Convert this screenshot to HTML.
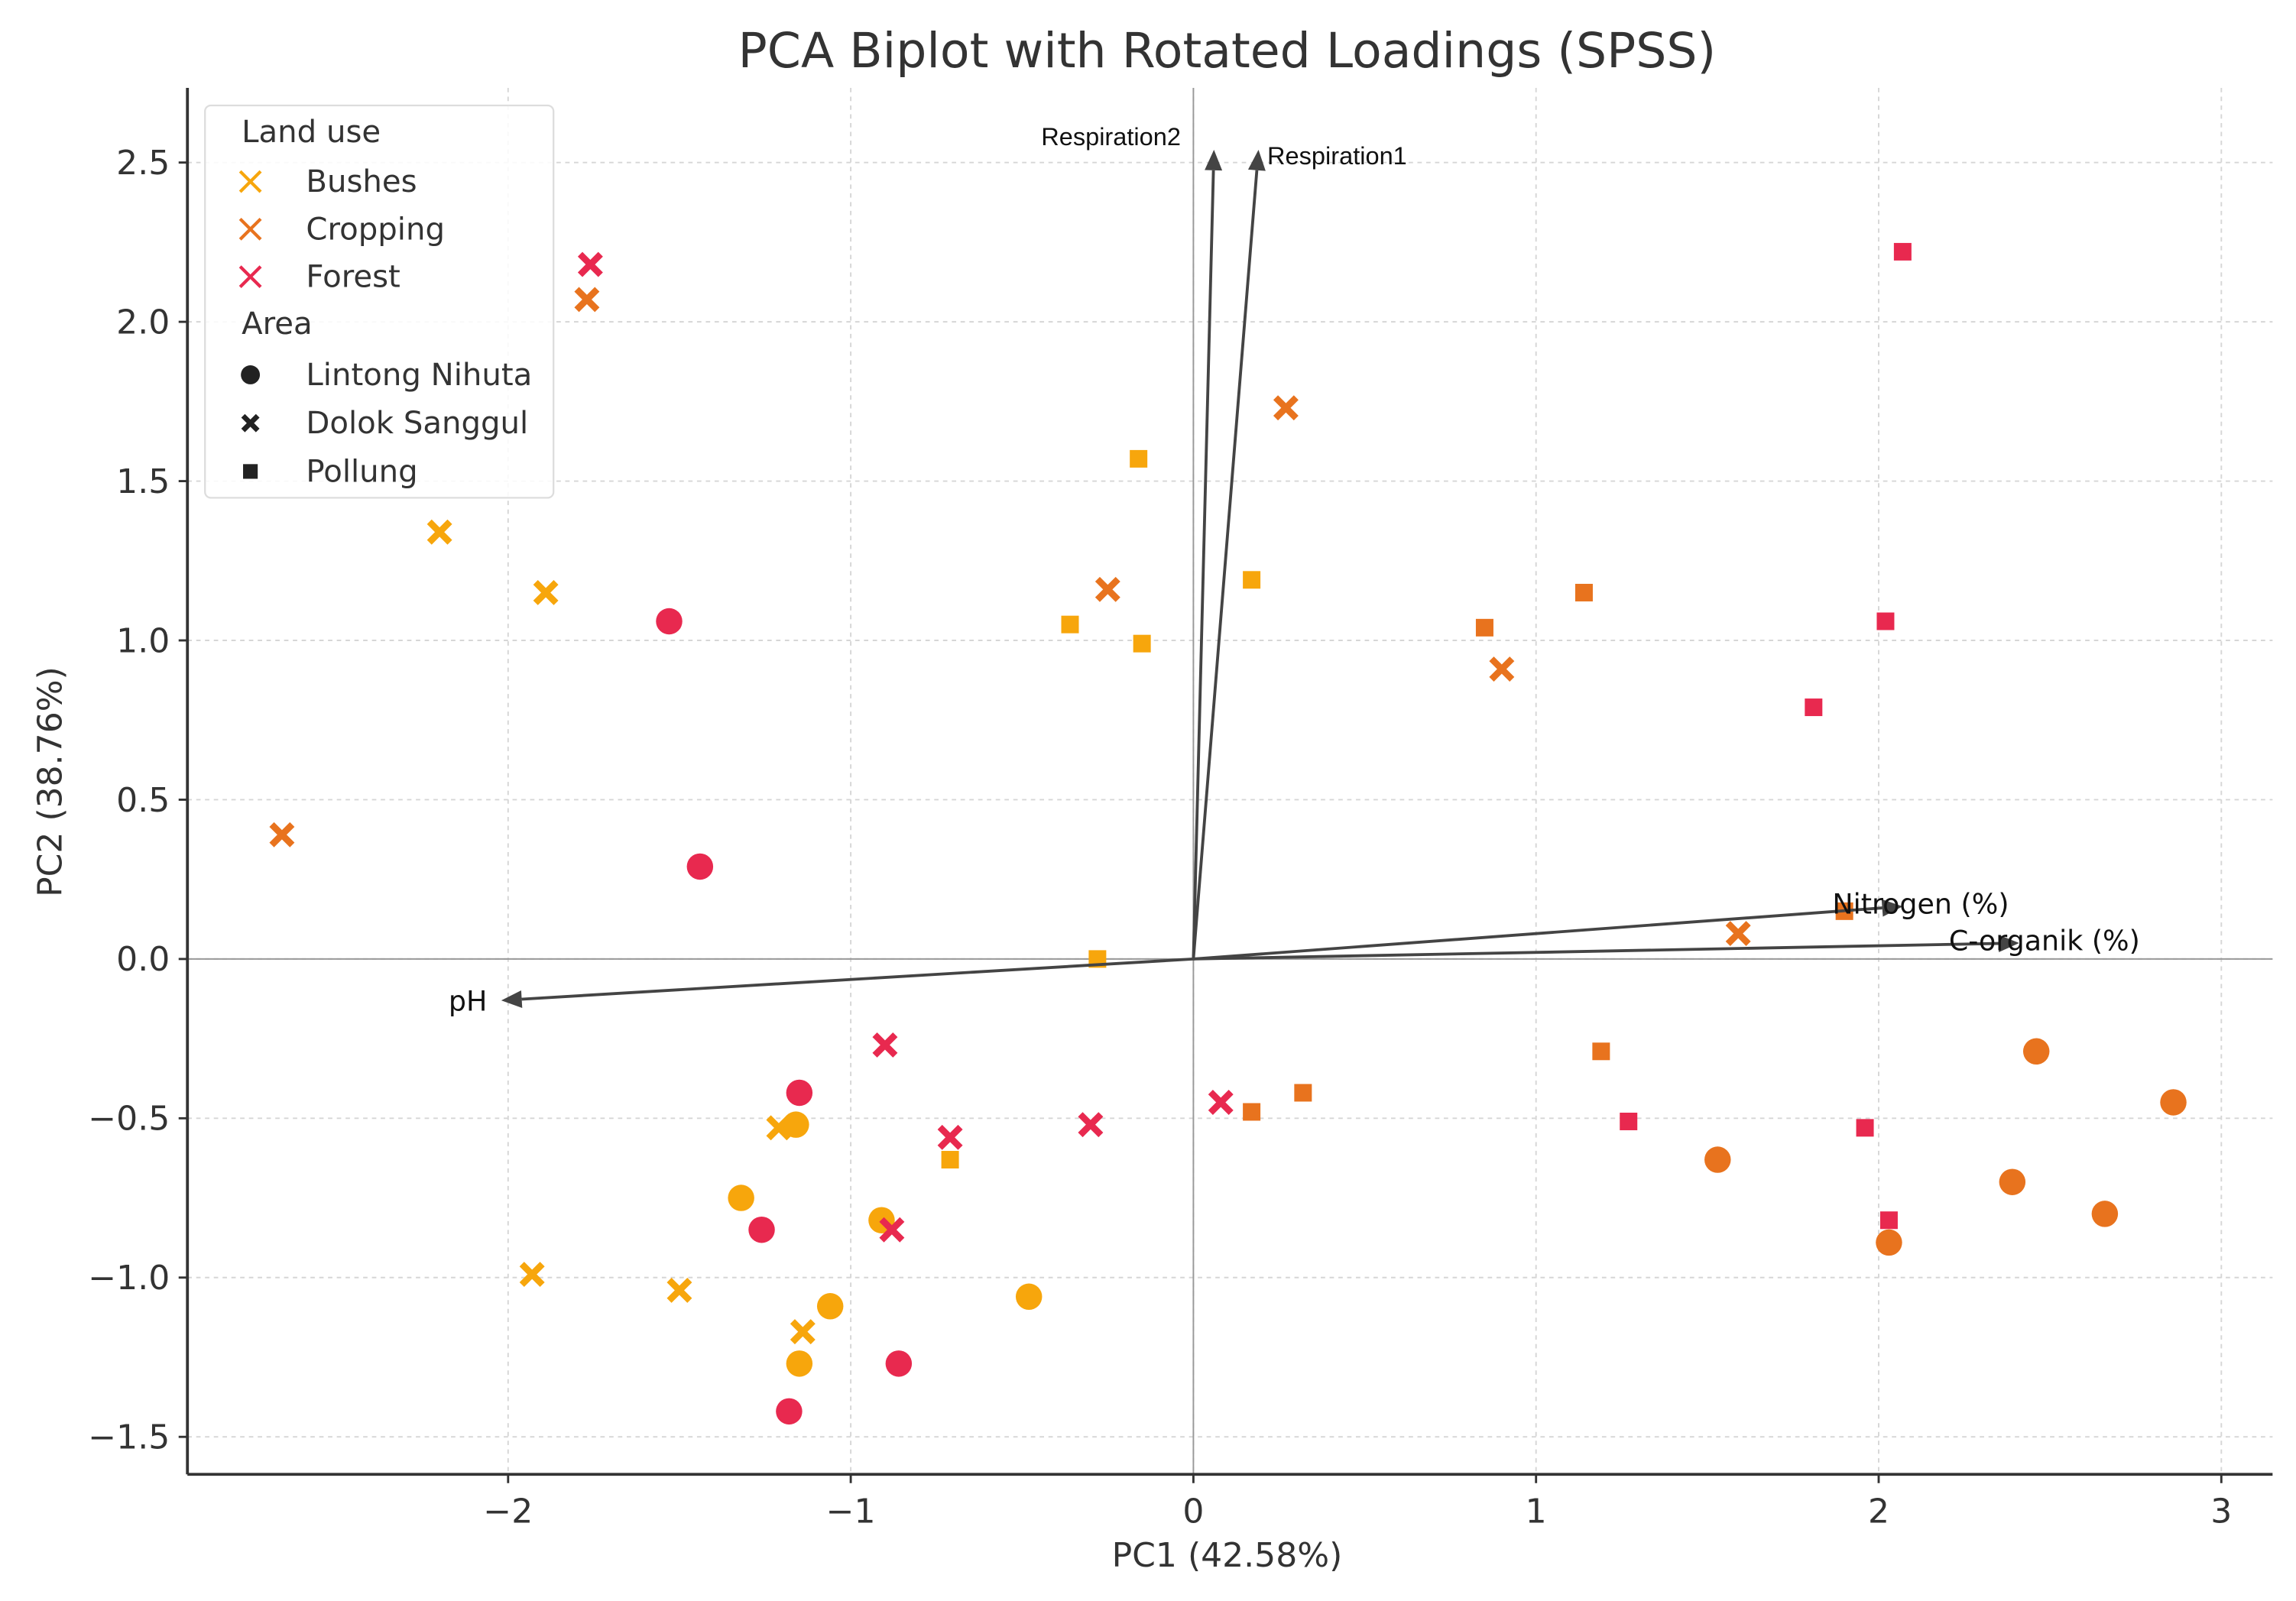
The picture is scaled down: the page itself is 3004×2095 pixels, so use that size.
<!DOCTYPE html>
<html><head><meta charset="utf-8"><style>
html,body{margin:0;padding:0;background:#fff;}
svg{display:block;font-family:"DejaVu Sans","Liberation Sans",sans-serif;}
</style></head><body>
<svg id="chart" width="3004" height="2095" viewBox="0 0 1568 1093.5" xmlns="http://www.w3.org/2000/svg">
<rect width="1568" height="1093.5" fill="#fff"/>
<g id="grid"></g>
<g id="axes"></g>
<g id="points"></g>
<g id="loadings"></g>
<text x="838" y="46" font-size="33" text-anchor="middle" fill="#333">PCA Biplot with Rotated Loadings (SPSS)</text>
<text x="838" y="1070" font-size="23" text-anchor="middle" fill="#333">PC1 (42.58%)</text>
<text transform="translate(42,534) rotate(-90)" font-size="23" text-anchor="middle" fill="#333">PC2 (38.76%)</text>
<g id="legend"></g>
</svg>
<script>
const xTicks=[-2,-1,0,1,2,3];
const yTicks=[-1.5,-1.0,-0.5,0.0,0.5,1.0,1.5,2.0,2.5];
const landUses=["Bushes","Cropping","Forest"];
const areas=["Lintong Nihuta","Dolok Sanggul","Pollung"];
const bushesCircleX=[-1.16,-1.32,-0.91,-1.06,-1.15,-0.48];
const bushesCircleY=[-0.52,-0.75,-0.82,-1.09,-1.27,-1.06];
const bushesCrossX=[-2.20,-1.89,-1.93,-1.50,-1.21,-1.14];
const bushesCrossY=[1.34,1.15,-0.99,-1.04,-0.53,-1.17];
const bushesSquareX=[-0.16,-0.36,-0.15,0.17,-0.28,-0.71];
const bushesSquareY=[1.57,1.05,0.99,1.19,0.00,-0.63];
const croppingCircleX=[2.46,2.86,1.53,2.39,2.66,2.03];
const croppingCircleY=[-0.29,-0.45,-0.63,-0.70,-0.80,-0.89];
const croppingCrossX=[-1.77,-2.66,-0.25,0.27,0.90,1.59];
const croppingCrossY=[2.07,0.39,1.16,1.73,0.91,0.08];
const croppingSquareX=[0.85,1.14,1.90,1.19,0.32,0.17];
const croppingSquareY=[1.04,1.15,0.15,-0.29,-0.42,-0.48];
const forestCircleX=[-1.53,-1.44,-1.15,-1.26,-0.86,-1.18];
const forestCircleY=[1.06,0.29,-0.42,-0.85,-1.27,-1.42];
const forestCrossX=[-1.76,-0.90,-0.71,-0.30,0.08,-0.88];
const forestCrossY=[2.18,-0.27,-0.56,-0.52,-0.45,-0.85];
const forestSquareX=[2.07,2.02,1.81,1.27,1.96,2.03];
const forestSquareY=[2.22,1.06,0.79,-0.51,-0.53,-0.82];
const loadingNames=["Respiration2","Respiration1","pH","Nitrogen (%)","C-organik (%)"];
const loadingX=[0.06,0.19,-2.02,2.07,2.41];
const loadingY=[2.54,2.54,-0.13,0.165,0.05];

const NS="http://www.w3.org/2000/svg";
const L=128,R=1552,T=60,B=1007;
const sx=v=>815+v*234;
const sy=v=>655-v*217.6;
const colors={Bushes:"#F7A60C",Cropping:"#E8731E",Forest:"#E8294F"};
function mk(tag,attrs,parent){const e=document.createElementNS(NS,tag);for(const k in attrs)e.setAttribute(k,attrs[k]);parent.appendChild(e);return e;}
const grid=document.getElementById('grid'),axes=document.getElementById('axes'),pts=document.getElementById('points'),ld=document.getElementById('loadings'),lg=document.getElementById('legend');
xTicks.forEach(t=>{
  const g=mk('line',{x1:sx(t),x2:sx(t),y1:T,y2:B,stroke:"#d6d6d6","stroke-width":1,"stroke-dasharray":"3,3"},grid);
  
  
  const tk=mk('line',{x1:sx(t),x2:sx(t),y1:B,y2:B+6,stroke:"#333","stroke-width":1.5},axes);
  
  
  const lb=mk('text',{x:sx(t),y:B+33,"font-size":23,"text-anchor":"middle",fill:"#333"},axes);
  lb.textContent=String(t).replace('-','\u2212');
  
  
});
yTicks.forEach(t=>{
  const g=mk('line',{x1:L,x2:R,y1:sy(t),y2:sy(t),stroke:"#d6d6d6","stroke-width":1,"stroke-dasharray":"3,3"},grid);
  
  
  const tk=mk('line',{x1:L-6,x2:L,y1:sy(t),y2:sy(t),stroke:"#333","stroke-width":1.5},axes);
  
  
  const lb=mk('text',{x:L-12,y:sy(t)+8,"font-size":23,"text-anchor":"end",fill:"#333"},axes);
  lb.textContent=t.toFixed(1).replace('-','\u2212');
  
  
});
const z1=mk('line',{x1:L,x2:R,y1:sy(0),y2:sy(0),stroke:"#999","stroke-width":1},grid);


const z2=mk('line',{x1:sx(0),x2:sx(0),y1:T,y2:B,stroke:"#999","stroke-width":1},grid);


const ax1=mk('line',{x1:L,x2:L,y1:T,y2:B,stroke:"#333","stroke-width":2},axes);


const ax2=mk('line',{x1:L,x2:R,y1:B,y2:B,stroke:"#333","stroke-width":2},axes);



function marker(shape,cx,cy,color,parent,thin){
  let e;
  if(shape==="circle"){e=mk('circle',{cx:cx,cy:cy,r:9,fill:color},parent);}
  else if(shape==="square"){e=mk('rect',{x:cx-6,y:cy-6,width:12,height:12,fill:color},parent);}
  else {const s=7;e=mk('path',{d:`M${cx-s},${cy-s}L${cx+s},${cy+s}M${cx-s},${cy+s}L${cx+s},${cy-s}`,stroke:color,"stroke-width":thin?2.2:4.5,fill:"none"},parent);}
  return e;
}
const series=[
 ["Bushes","circle",bushesCircleX,bushesCircleY],["Bushes","cross",bushesCrossX,bushesCrossY],["Bushes","square",bushesSquareX,bushesSquareY],
 ["Cropping","circle",croppingCircleX,croppingCircleY],["Cropping","cross",croppingCrossX,croppingCrossY],["Cropping","square",croppingSquareX,croppingSquareY],
 ["Forest","circle",forestCircleX,forestCircleY],["Forest","cross",forestCrossX,forestCrossY],["Forest","square",forestSquareX,forestSquareY]];
series.forEach(s=>{
  s[2].forEach((xv,i)=>{
    const e=marker(s[1],sx(xv),sy(s[3][i]),colors[s[0]],pts);
    
    
  });
});
const labelOff=[[-118,-3],[6,10],[-36,7],[-48,5],[-48,5]];
loadingNames.forEach((n,i)=>{
  const x2=sx(loadingX[i]),y2=sy(loadingY[i]),x1=sx(0),y1=sy(0);
  const dx=x2-x1,dy=y2-y1,len=Math.hypot(dx,dy),ux=dx/len,uy=dy/len,h=14,w=6;
  const bx=x2-ux*h,by=y2-uy*h;
  const ln=mk('line',{x1:x1,y1:y1,x2:bx,y2:by,stroke:"#444","stroke-width":2},ld);
  
  
  const hd=mk('polygon',{points:`${x2},${y2} ${bx-uy*w},${by+ux*w} ${bx+uy*w},${by-ux*w}`,fill:"#444"},ld);
  
  
  const fs=i<2?15:19;
  const tx=mk('text',{x:x2+labelOff[i][0],y:y2+labelOff[i][1],"font-size":fs,fill:"#111"},ld);
  if(i<2)tx.setAttribute('font-family','"Liberation Sans",sans-serif');
  if(i<2)tx.setAttribute('font-size','17');
  tx.textContent=n;
  
  
});
// legend
const box=mk('rect',{x:140,y:72,width:238,height:268,rx:4,fill:"#fff","fill-opacity":0.85,stroke:"#ddd","stroke-width":1.2},lg);


const h1=mk('text',{x:165,y:97,"font-size":21,fill:"#333"},lg);h1.textContent="Land use";


landUses.forEach((n,i)=>{
  const y=124+i*32.5;
  const m=marker("cross",171,y,colors[n],lg,true);
  
  
  const t=mk('text',{x:209,y:y+7,"font-size":21,fill:"#333"},lg);t.textContent=n;
  
  
});
const h2=mk('text',{x:165,y:228,"font-size":21,fill:"#333"},lg);h2.textContent="Area";


const shp=["circle","cross","square"];
areas.forEach((n,i)=>{
  const y=256+i*33;
  let m;
  if(shp[i]==="circle")m=mk('circle',{cx:171,cy:y,r:6.5,fill:"#222"},lg);
  else if(shp[i]==="square")m=mk('rect',{x:166,y:y-5,width:10,height:10,fill:"#222"},lg);
  else m=mk('path',{d:`M166,${y-5}L176,${y+5}M166,${y+5}L176,${y-5}`,stroke:"#222","stroke-width":3.5},lg);
  
  
  const t=mk('text',{x:209,y:y+7,"font-size":21,fill:"#333"},lg);t.textContent=n;
  
  
});
</script>
</body></html>
